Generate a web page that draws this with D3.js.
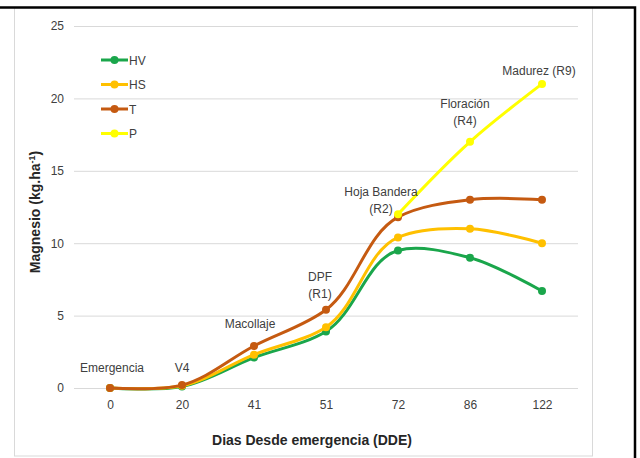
<!DOCTYPE html>
<meta charset="utf-8">
<style>
  body { margin: 0; background: #fff; }
  text { font-family: "Liberation Sans", Arial, sans-serif; }
</style>
<svg width="640" height="458"></svg>
<script src="https://cdn.jsdelivr.net/npm/d3@7"></script>
<script>

// categories (days since emergence)
var dias = ["0", "20", "41", "51", "72", "86", "122"];

// series values, kg/ha
var hv = [0, 0.1, 2.1, 3.9, 9.5, 9.0, 6.7];
var hs = [0, 0.15, 2.3, 4.2, 10.4, 11.0, 10.0];
var t  = [0, 0.2, 2.9, 5.4, 11.8, 13.0, 13.0];
var p  = [null, null, null, null, 12.0, 17.0, 21.0];

var yTicks = [0, 5, 10, 15, 20, 25];

// phenological stage labels (one per category)
var etapas = [["Emergencia"], ["V4"], ["Macollaje"], ["DPF", "(R1)"],
              ["Hoja Bandera", "(R2)"], ["Floración", "(R4)"], ["Madurez (R9)"]];
var etapaVal = [0, 0, 2.9, 5.4, 11.9, 17.0, 21.0];

var series = [
  {name: "HV", values: hv, color: "#1aa64b"},
  {name: "HS", values: hs, color: "#ffc000"},
  {name: "T",  values: t,  color: "#c55a11"},
  {name: "P",  values: p,  color: "#ffff00"}
];

var svg = d3.select("svg");

// frame: light plot-area border and the black outline
svg.append("rect")
    .attr("x", 14.5).attr("y", 7.5)
    .attr("width", 578).attr("height", 448.5)
    .attr("fill", "none").attr("stroke", "#d9d9d9");
svg.append("path")
    .attr("d", "M0,7.5 H635 V458")
    .attr("fill", "none").attr("stroke", "#000").attr("stroke-width", 2.5);

var margin = {left: 74, right: 62, top: 26, bottom: 70},
    width = 640 - margin.left - margin.right,
    height = 458 - margin.top - margin.bottom;

var g = svg.append("g").attr("transform", "translate(" + margin.left + "," + margin.top + ")");

var x = d3.scalePoint().domain(dias).range([0, width]).padding(0.5);
var y = d3.scaleLinear().domain([0, 25]).range([362, 0]);

// gridlines
g.append("g")
    .call(d3.axisLeft(y).tickValues(yTicks).tickSize(-width).tickFormat(""))
    .call(function(s) { s.select(".domain").remove(); })
    .selectAll("line").attr("stroke", "#d9d9d9");

// y axis labels
g.append("g")
    .call(d3.axisLeft(y).tickValues(yTicks).tickSize(0).tickPadding(10))
    .call(function(s) { s.select(".domain").remove(); })
    .selectAll("text").attr("font-size", 12).attr("fill", "#404040")
    .style("font-family", "Liberation Sans, Arial, sans-serif");

// x axis labels
g.append("g")
    .attr("transform", "translate(0," + y(0) + ")")
    .call(d3.axisBottom(x).tickSize(0).tickPadding(12))
    .call(function(s) { s.select(".domain").remove(); })
    .selectAll("text").attr("font-size", 12).attr("fill", "#404040")
    .style("font-family", "Liberation Sans, Arial, sans-serif");

var line = d3.line()
    .defined(function(d) { return d != null; })
    .x(function(d, i) { return x(dias[i]); })
    .y(function(d) { return y(d); })
    .curve(d3.curveCatmullRom.alpha(1));

series.forEach(function(s) {
  g.append("path")
      .attr("d", line(s.values))
      .attr("fill", "none")
      .attr("stroke", s.color)
      .attr("stroke-width", 3);
  g.selectAll(null)
      .data(s.values.map(function(v, i) { return {v: v, i: i}; })
                    .filter(function(d) { return d.v != null; }))
      .enter().append("circle")
      .attr("cx", function(d) { return x(dias[d.i]); })
      .attr("cy", function(d) { return y(d.v); })
      .attr("r", 4)
      .attr("fill", s.color);
});

// stage labels
var offs = [[2, 16], [0, 16], [-4, 18], [-6, 29], [-17, 20], [-5, 34], [-3, 9]];
etapas.forEach(function(lines, i) {
  var tx = g.append("text")
      .attr("x", x(dias[i]) + offs[i][0])
      .attr("y", y(etapaVal[i]) - offs[i][1])
      .attr("text-anchor", "middle")
      .attr("font-size", 12)
      .attr("fill", "#404040");
  lines.forEach(function(l, k) {
    tx.append("tspan")
        .attr("x", x(dias[i]) + offs[i][0])
        .attr("dy", k == 0 ? 0 : 17)
        .text(l);
  });
});

// legend
var leg = svg.append("g").attr("transform", "translate(101,60)");
series.forEach(function(s, i) {
  var r = leg.append("g").attr("transform", "translate(0," + (i * 24.5) + ")");
  r.append("line").attr("x1", 0).attr("x2", 27)
      .attr("stroke", s.color).attr("stroke-width", 3);
  r.append("circle").attr("cx", 13.5).attr("r", 4).attr("fill", s.color);
  r.append("text").attr("x", 28).attr("y", 4.5)
      .attr("font-size", 12).attr("fill", "#404040").text(s.name);
});

// axis titles
var yt = svg.append("text")
    .attr("transform", "translate(40,212) rotate(-90)")
    .attr("text-anchor", "middle")
    .attr("font-size", 14).attr("font-weight", "bold").attr("fill", "#262626");
yt.append("tspan").text("Magnesio (kg.ha");
yt.append("tspan").attr("dy", -5).attr("font-size", 9).text("-1");
yt.append("tspan").attr("dy", 5).text(")");

svg.append("text")
    .attr("x", 312).attr("y", 445)
    .attr("text-anchor", "middle")
    .attr("font-size", 14).attr("font-weight", "bold").attr("fill", "#262626")
    .text("Dias Desde emergencia (DDE)");

</script>
